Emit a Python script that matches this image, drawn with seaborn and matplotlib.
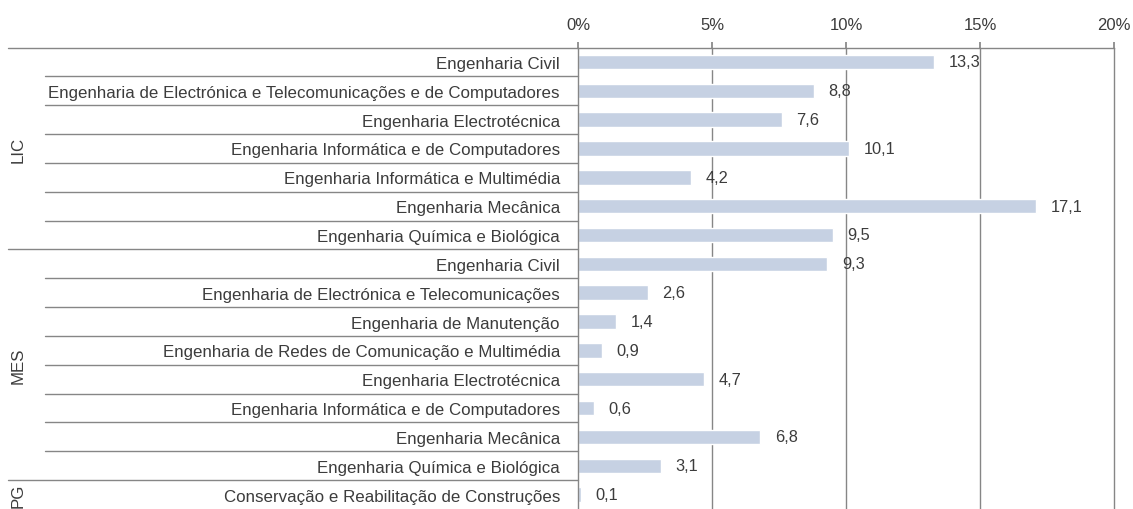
import matplotlib
matplotlib.use("Agg")
import matplotlib.pyplot as plt
import seaborn as sns
import pandas as pd

groups = ["LIC"] * 7 + ["MES"] * 8 + ["PG"]
courses = [
    "Engenharia Civil",
    "Engenharia de Electrónica e Telecomunicações e de Computadores",
    "Engenharia Electrotécnica",
    "Engenharia Informática e de Computadores",
    "Engenharia Informática e Multimédia",
    "Engenharia Mecânica",
    "Engenharia Química e Biológica",
    "Engenharia Civil",
    "Engenharia de Electrónica e Telecomunicações",
    "Engenharia de Manutenção",
    "Engenharia de Redes de Comunicação e Multimédia",
    "Engenharia Electrotécnica",
    "Engenharia Informática e de Computadores",
    "Engenharia Mecânica",
    "Engenharia Química e Biológica",
    "Conservação e Reabilitação de Construções",
]
values = [13.3, 8.8, 7.6, 10.1, 4.2, 17.1, 9.5,
          9.3, 2.6, 1.4, 0.9, 4.7, 0.6, 6.8, 3.1,
          0.1]
xticks = [0, 5, 10, 15, 20]
xtick_labels = ["0%", "5%", "10%", "15%", "20%"]

sns.set_theme(style="white")
plt.rcParams["font.family"] = ["Liberation Sans", "DejaVu Sans"]

TXT = "#3c3c3c"
LINE = "#868686"
BAR = "#c6d1e3"
FS = 12.2

df = pd.DataFrame({
    "key": [f"{g}|{c}|{i}" for i, (g, c) in enumerate(zip(groups, courses))],
    "course": courses,
    "group": groups,
    "value": values,
})

fig = plt.figure(figsize=(11.33, 5.10), dpi=100)
ax = fig.add_axes([578 / 1133, 0.0, (1114 - 578) / 1133, 1 - 48.5 / 510])

sns.barplot(data=df, y="key", x="value", orient="h", color=BAR, width=0.5,
            saturation=1, ax=ax)

n = len(values)
ax.set_ylim(n - 0.5, -0.5)
ax.set_xlim(0, 20)
ax.xaxis.tick_top()
ax.set_xticks(xticks)
ax.set_xticklabels(xtick_labels, color=TXT, fontsize=12)
ax.tick_params(axis="x", direction="out", length=4, color=LINE, pad=7)
ax.set_yticks(range(n))
ax.set_yticklabels(courses, color=TXT, fontsize=FS)
ax.tick_params(axis="y", length=0, pad=13)
ax.set_xlabel("")
ax.set_ylabel("")

for s in ["right", "bottom"]:
    ax.spines[s].set_visible(False)
for s in ["top", "left"]:
    ax.spines[s].set_color(LINE)
    ax.spines[s].set_linewidth(1)

for x in xticks[1:]:
    ax.axvline(x, color=LINE, lw=1, zorder=0, clip_on=False)

# value labels
for i, v in enumerate(values):
    ax.text(v + 0.55, i, f"{v:.1f}".replace(".", ","), va="center", ha="left",
            color=TXT, fontsize=11.8)

# separators
ytr = ax.get_yaxis_transform()
full_x0 = (8 - 578) / (1114 - 578)
inner_x0 = (45 - 578) / (1114 - 578)
bounds = {6.5, 14.5}
for y in [i + 0.5 for i in range(n - 1)]:
    x0 = full_x0 if y in bounds else inner_x0
    ax.plot([x0, 0], [y, y], transform=ytr, color=LINE, lw=1, clip_on=False)
ax.plot([full_x0, 0], [-0.5, -0.5], transform=ytr, color=LINE, lw=1, clip_on=False)

# group labels
gx = (18 - 578) / (1114 - 578)
for g in ["LIC", "MES", "PG"]:
    idx = [i for i, gg in enumerate(groups) if gg == g]
    yc = (idx[0] + idx[-1]) / 2
    ax.text(gx, yc, g, rotation=90, va="center", ha="center", transform=ytr,
            color=TXT, fontsize=FS)

fig.savefig("out.png", dpi=100)
